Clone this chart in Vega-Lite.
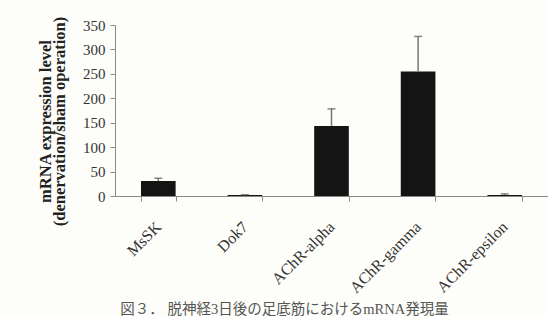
{
  "$schema": "https://vega.github.io/schema/vega-lite/v6.json",
  "width": 433,
  "height": 171,
  "padding": {"left": 36, "top": 16, "right": 0, "bottom": 0},
  "background": "#fdfdf9",
  "data": {
    "values": [
      {"gene": "MsSK", "value": 30.8, "upper": 36.3},
      {"gene": "Dok7", "value": 2.0, "upper": 2.6},
      {"gene": "AChR-alpha", "value": 143.5, "upper": 178.4},
      {"gene": "AChR-gamma", "value": 254.9, "upper": 326.6},
      {"gene": "AChR-epsilon", "value": 2.2, "upper": 4.3}
    ]
  },
  "encoding": {
    "x": {
      "field": "gene",
      "type": "nominal",
      "sort": null,
      "scale": {"paddingInner": 0.6, "paddingOuter": 0.3},
      "axis": {
        "title": "図３． 脱神経3日後の足底筋におけるmRNA発現量",
        "titleFont": "Liberation Serif, Noto Sans CJK JP",
        "titleFontSize": 14.5,
        "titleFontWeight": "normal",
        "titleColor": "#555555",
        "titleAlign": "center",
        "titleBaseline": "middle",
        "titleX": 169,
        "titleY": 113,
        "labelAngle": -45,
        "labelAlign": "right",
        "labelBaseline": "middle",
        "labelFont": "Liberation Serif",
        "labelFontSize": 16,
        "labelColor": "#333333",
        "labelPadding": 23,
        "tickBand": "extent",
        "tickSize": 5,
        "tickColor": "#8a8a8a",
        "domainColor": "#8a8a8a"
      }
    },
    "y": {
      "field": "value",
      "type": "quantitative",
      "scale": {"domain": [0, 350]},
      "axis": {
        "values": [0, 50, 100, 150, 200, 250, 300, 350],
        "labelOverlap": false,
        "grid": false,
        "domainColor": "#8a8a8a",
        "tickColor": "#8a8a8a",
        "tickSize": 5,
        "labelPadding": 5,
        "labelFont": "Liberation Serif",
        "labelFontSize": 15,
        "labelColor": "#333333",
        "title": ["mRNA expression level", "(denervation/sham operation)"],
        "titleFont": "Liberation Serif",
        "titleFontWeight": "bold",
        "titleFontSize": 16.5,
        "titleLineHeight": 14,
        "titleColor": "#222222",
        "titleAlign": "center",
        "titleBaseline": "bottom",
        "titleX": -62,
        "titleY": 96
      }
    }
  },
  "layer": [
    {
      "mark": {"type": "bar", "color": "#141414"}
    },
    {
      "mark": {"type": "rule", "color": "#777777", "strokeWidth": 1.5},
      "encoding": {
        "y2": {"field": "upper"}
      }
    },
    {
      "mark": {"type": "tick", "color": "#555555", "size": 8, "thickness": 1.5},
      "encoding": {
        "y": {
          "field": "upper",
          "type": "quantitative",
          "scale": {"domain": [0, 350]},
          "axis": {
            "values": [0, 50, 100, 150, 200, 250, 300, 350],
            "labelOverlap": false,
            "grid": false,
            "domainColor": "#8a8a8a",
            "tickColor": "#8a8a8a",
            "tickSize": 5,
            "labelPadding": 5,
            "labelFont": "Liberation Serif",
            "labelFontSize": 15,
            "labelColor": "#333333",
            "title": ["mRNA expression level", "(denervation/sham operation)"],
            "titleFont": "Liberation Serif",
            "titleFontWeight": "bold",
            "titleFontSize": 16.5,
            "titleLineHeight": 14,
            "titleColor": "#222222",
            "titleAlign": "center",
            "titleBaseline": "bottom",
            "titleX": -62,
            "titleY": 96
          }
        }
      }
    }
  ],
  "config": {"view": {"stroke": null}}
}
